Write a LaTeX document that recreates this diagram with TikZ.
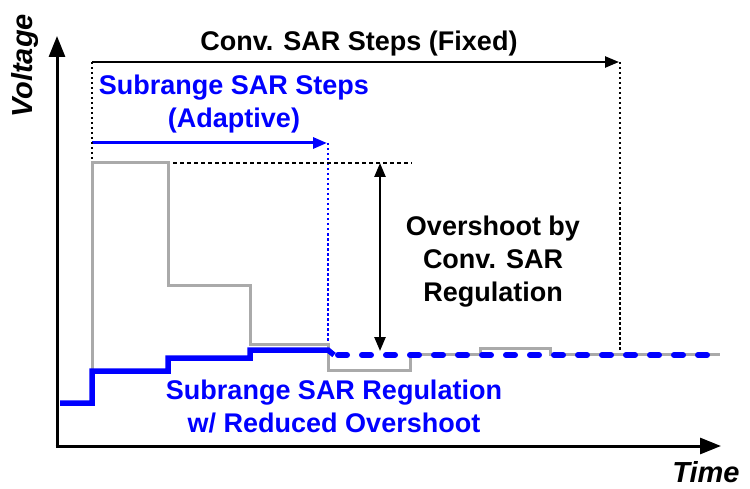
\documentclass[tikz,border=0pt]{standalone}
\usepackage{fontspec}
\setmainfont{Liberation Sans}
\usetikzlibrary{arrows.meta}
\definecolor{stepgray}{RGB}{170,170,170}
\definecolor{subblue}{RGB}{0,0,255}
\begin{document}
\begin{tikzpicture}[x=1bp,y=-1bp,
  lbl/.style={font=\fontsize{27bp}{33bp}\selectfont\bfseries,inner sep=0pt,align=center},
  axlbl/.style={font=\fontsize{29bp}{35bp}\selectfont\bfseries\itshape,inner sep=0pt},
  axis/.style={line width=3bp,-{Triangle[length=21bp,width=16bp]}},
  span/.style={line width=2.5bp,-{Triangle[length=14bp,width=11bp]}},
  guide/.style={line width=2bp,dash pattern=on 2.5bp off 2.5bp},
  conv/.style={stepgray,line width=3bp},
  sub/.style={subblue,line width=5.5bp,line join=miter},
  subdash/.style={subblue,line width=6bp,line cap=round,dash pattern=on 9bp off 15bp}]
\useasboundingbox (0,0) rectangle (750,489);

% axes
\coordinate (O) at (57,446);
\coordinate (Ytop) at (57,36);
\coordinate (Xend) at (721,446);
\draw[axis] (O) -- (Ytop);
\draw[axis,shorten <=-1.5bp] (O) -- (Xend);
\node[axlbl,rotate=90] (vlab) at (25,66) {Voltage};
\node[axlbl] (tlab) at (706,472) {Time};

% time spans of the two searches
\coordinate (s0) at (92,62);
\coordinate (s1) at (619,62);
\coordinate (a0) at (92,143);
\coordinate (a1) at (327,143);
\draw[span] (s0) -- (s1);
\draw[span,subblue,line width=3bp] (a0) -- (a1);
\node[lbl] (convsteps) at (359,44) {Conv. SAR Steps (Fixed)};
\node[lbl,subblue] (substeps) at (234,104) {Subrange SAR Steps\\(Adaptive)};

% guide lines
\coordinate (g0) at (92,163);
\coordinate (g1) at (620,352);
\coordinate (g2) at (328,350);
\coordinate (h0) at (173,163);
\coordinate (h1) at (412,163);
\draw[guide] (s0) -- (g0);
\draw[guide] (s1 -| g1) -- (g1);
\draw[guide,subblue] (a1 -| g2) -- (g2);
\draw[line width=2bp,dash pattern=on 4bp off 3bp] (h0) -- (h1);

% overshoot marker
\coordinate (m0) at (380,163);
\coordinate (m1) at (380,351);
\draw[line width=2.5bp,{Triangle[length=14bp,width=11bp]}-{Triangle[length=14bp,width=11bp]}] (m0) -- (m1);
\node[lbl] (overshoot) at (493,262) {Overshoot by\\Conv. SAR\\Regulation};

% conventional SAR regulation
\draw[conv] (92,370) -- (92,163) -- (168,163) -- (168,285) -- (250,285)
  -- (250,344) -- (328,344) -- (328,370) -- (410,370) -- (410,354)
  -- (480,354) -- (480,348) -- (550,348) -- (550,354) -- (720,354);

% subrange SAR regulation
\draw[sub] (60,403) -- (92,403) -- (92,371) -- (168,371) -- (168,358)
  -- (250,358) -- (250,350) -- (328,350) -- (334,355);
\draw[subdash] (338,355) -- (715,355);
\node[lbl,subblue] (subreg) at (334,406) {Subrange SAR Regulation\\w/ Reduced Overshoot};
\end{tikzpicture}
\end{document}
